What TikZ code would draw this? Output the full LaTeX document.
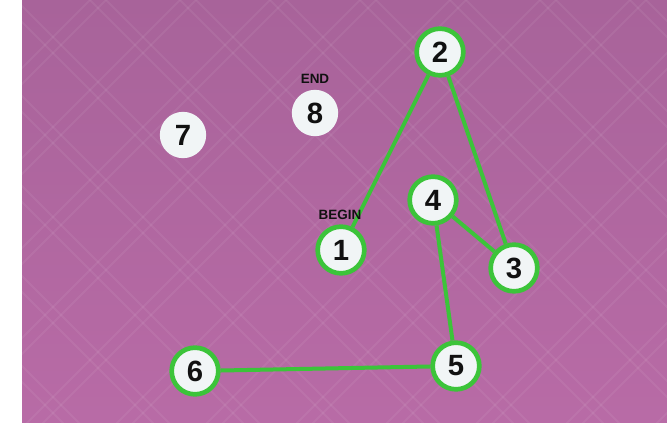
\documentclass[tikz,border=0pt]{standalone}
\usepackage{fontspec}
\setmainfont{Liberation Sans}
\usetikzlibrary{positioning, backgrounds}
\definecolor{pbgtop}{HTML}{A8639A}
\definecolor{pbgbot}{HTML}{B86BA6}
\definecolor{pgreen}{HTML}{3CC43A}
\definecolor{pball}{HTML}{F1F5F6}
\definecolor{pink}{HTML}{111111}
\tikzset{
  font=\sffamily,
  dot/.style={
    circle, fill=pball, draw=none, inner sep=0pt,
    minimum size=13.9mm, text=pink,
    font=\fontsize{25}{25}\selectfont\bfseries
  },
  dotdone/.style={
    dot, draw=pgreen, line width=1.4mm, minimum size=14mm
  },
  link/.style={draw=pgreen, line width=1.2mm},
  tag/.style={font=\fontsize{11.5}{12}\selectfont\bfseries, text=pink, inner sep=0pt},
  weave/.style={draw=white, opacity=0.06, line width=0.6mm}
}

\begin{document}
\begin{tikzpicture}[x=0.3mm,y=-0.3mm]
  \useasboundingbox (0,0) rectangle (667,425);
  % backdrop
  \fill[white] (0,0) rectangle (667,425);
  \shade[top color=pbgtop, bottom color=pbgbot] (22,0) rectangle (667,423);
  \begin{scope}
    \clip (22,0) rectangle (667,423);
    \foreach \k in {-8,...,12} {
      \draw[weave] (\k*90,0) -- ++(430,430);
      \draw[weave] (\k*90+16,0) -- ++(430,430);
      \draw[weave] (\k*90,0) -- ++(-430,430);
      \draw[weave] (\k*90+16,0) -- ++(-430,430);
    }
  \end{scope}

  % balls
  \node[dotdone] (n1) at (341,250) {1};
  \node[dotdone] (n2) at (440,52) {2};
  \node[dotdone] (n3) at (514,268) {3};
  \node[dotdone] (n4) at (433,200) {4};
  \node[dotdone] (n5) at (456,366) {5};
  \node[dotdone] (n6) at (195,371) {6};
  \node[dot] (n7) at (183,135) {7};
  \node[dot] (n8) at (315,113) {8};

  % path
  \draw[link] (n1) -- (n2);
  \draw[link] (n2) -- (n3);
  \draw[link] (n4) -- (n3);
  \draw[link] (n4) -- (n5);
  \draw[link] (n5) -- (n6);

  \node[tag] (tbegin) at (340,215) {BEGIN};
  \node[tag] (tend) at (315,79) {END};
\end{tikzpicture}
\end{document}
